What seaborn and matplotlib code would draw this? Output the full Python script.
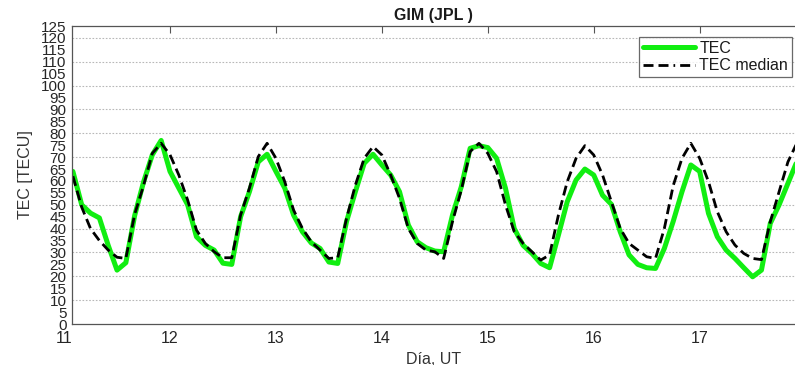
import numpy as np
import pandas as pd
import matplotlib
matplotlib.use("Agg")
import matplotlib.pyplot as plt
import seaborn as sns
from matplotlib.lines import Line2D

# ---- data (2-hour samples starting 11 02:00 UT) ----
start_day = 11
step_hours = 2
tec = [64, 50, 46.5, 44.5, 33, 22.6, 25.7, 45.5, 59.5, 71, 77, 64,
       57, 50, 36.6, 33, 31, 25.5, 25, 45, 55.5, 68, 71.2, 64,
       57, 45.7, 38.7, 34, 31.7, 26, 25.4, 43, 55.5, 67.4, 71.2, 66.7,
       62.5, 55.5, 41.5, 34.5, 32, 30.6, 30.3, 45.7, 57.6, 73.7, 74.8, 74,
       69.5, 57, 40, 33, 29.6, 25.4, 23.6, 37.3, 51.3, 60.4, 65, 62.5,
       54, 50.2, 38.7, 29, 25, 23.6, 23.3, 31.7, 43, 55.5, 66.7, 64,
       46.4, 36.6, 31, 27.5, 23.6, 19.8, 22.6, 42.2, 50, 59, 68]
tec_median = [62, 49, 40, 35, 31, 28, 27.5, 46, 58, 71.6, 75.8, 71,
              62.5, 52, 39.4, 33.8, 30.3, 27.8, 27.8, 45.7, 57, 70.2, 75.8, 69.5,
              59.7, 47.8, 40.1, 34.5, 31, 27.5, 27.8, 44.3, 58.3, 69.5, 74.4, 70.9,
              62.5, 52.7, 40.1, 33.8, 31, 30.3, 27.5, 42.9, 56.2, 72.3, 75.8, 71.6,
              63.9, 50, 38.7, 33.8, 30.3, 26.8, 29, 45.7, 59.7, 69.5, 74.8, 70.9,
              62.5, 51.3, 40.1, 33.8, 31, 28.2, 27.5, 40.1, 58, 69.5, 75.8, 69.5,
              59.7, 47.1, 38.7, 33.1, 29.6, 27.5, 27, 42.9, 55.5, 68, 75.8]
day_ticks = [11, 12, 13, 14, 15, 16, 17]
y_ticks = list(range(0, 130, 5))
y_grid = list(range(10, 130, 10))
title = "GIM (JPL )"
xlabel = "Día, UT"
ylabel = "TEC [TECU]"
legend_labels = ["TEC", "TEC median"]

t = start_day + np.arange(1, len(tec) + 1) * step_hours / 24.0
df = pd.DataFrame({"t": t, "tec": tec, "median": tec_median})

sns.set_theme(style="white")
plt.rcParams["font.family"] = ["Liberation Sans", "DejaVu Sans"]

fig = plt.figure(figsize=(7.95, 3.65), dpi=100)
ax = fig.add_axes([72 / 795, 1 - 324 / 365, 1 - 72 / 795, 298 / 365])

green = "#11ee11"
sns.lineplot(data=df, x="t", y="tec", ax=ax, color=green, lw=3.6,
             solid_joinstyle="round", solid_capstyle="round")
sns.lineplot(data=df, x="t", y="median", ax=ax, color="black", lw=2.0,
             linestyle=(0, (3.6, 1.8)), dash_capstyle="butt")

ax.set_yticks(y_ticks)
ax.set_yticks(y_grid, minor=True)
ax.yaxis.remove_overlapping_locs = False
ax.set_xticks(day_ticks[1:])
ax.set_xlim(11.075, 17.9)
ax.set_ylim(0, 125)

ax.grid(False)
ax.grid(which="minor", axis="y", ls=(0, (1.5, 1.5)), color="#b8b8b8", lw=0.8)
ax.set_axisbelow(True)

ax.tick_params(axis="both", which="major", direction="in", length=5, width=0.8,
               color="#555555", labelcolor="#262626", labelsize=11.5)
ax.tick_params(axis="x", top=True, pad=5)
ax.tick_params(axis="y", pad=4, labelsize=11)
ax.tick_params(which="minor", length=0)

# tick label for the first day (its tick lies just left of the view)
ax.annotate(str(day_ticks[0]), xy=(day_ticks[0], 0),
            xycoords=("data", "axes fraction"), xytext=(0, -5),
            textcoords="offset points", ha="center", va="top",
            fontsize=11.5, color="#262626", annotation_clip=False)

for s in ["left", "bottom", "top"]:
    ax.spines[s].set_color("#555555")
    ax.spines[s].set_linewidth(0.9)
ax.spines["right"].set_visible(False)

ax.set_title(title, fontsize=11.5, fontweight="bold", color="#1a1a1a", pad=4)
ax.set_xlabel(xlabel, fontsize=11.5, color="#333333", labelpad=4)
ax.set_ylabel(ylabel, fontsize=11.5, color="#333333", labelpad=6)

handles = [Line2D([], [], color=green, lw=3.6),
           Line2D([], [], color="black", lw=2.0, linestyle=(0, (3.6, 1.8, 3.6, 1.8, 0.6, 1.8)))]
leg = ax.legend(handles, legend_labels, loc="upper right",
                bbox_to_anchor=(0.996, 0.963), fontsize=11.5, frameon=True,
                fancybox=False, handlelength=3.2, handletextpad=0.3,
                borderpad=0.25, labelspacing=0.15, borderaxespad=0)
leg.get_frame().set_edgecolor("#444444")
leg.get_frame().set_linewidth(0.9)
for txt in leg.get_texts():
    txt.set_color("#1a1a1a")

fig.savefig("out.png", dpi=100)
